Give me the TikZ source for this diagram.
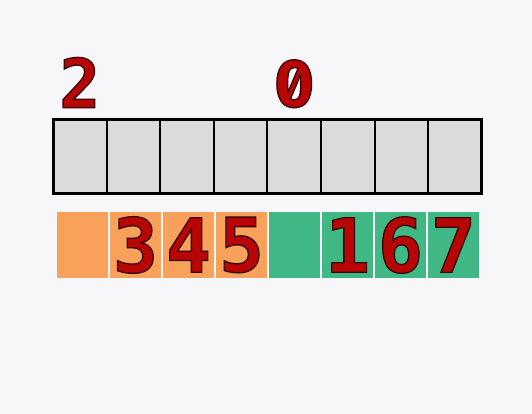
\documentclass[tikz,border=0pt]{standalone}
\usepackage{fontspec}
\usetikzlibrary{positioning}
\newfontfamily\digitfont{DejaVu Sans Mono}
\newfontfamily\zerofont{Fira Sans}[RawFeature=+zero]
\definecolor{paper}{HTML}{F7F6F8}
\definecolor{slotgray}{HTML}{DBDBDB}
\definecolor{leftpart}{HTML}{F8A15A}
\definecolor{rightpart}{HTML}{40B886}
\definecolor{digitred}{HTML}{B80505}
% red figure with a dark rim
\newcommand{\fig}[1]{\special{pdf:literal direct q 2 Tr 1.3 w 0.22 0.02 0.02 RG}#1\special{pdf:literal direct Q}}
\begin{document}
\begin{tikzpicture}[x=1pt, y=-1pt,
    slot/.style={draw=black, line width=2pt, fill=slotgray, minimum width=53.6pt,
                 minimum height=73pt, inner sep=0pt, outer sep=0pt},
    half/.style={fill=#1, draw=none, minimum width=51pt, minimum height=66pt, inner sep=0pt},
    digit/.style={font=\digitfont\bfseries\fontsize{75}{75}\selectfont, text=digitred, inner sep=0pt},
    small digit/.style={digit, font=\digitfont\bfseries\fontsize{68}{68}\selectfont}]
  \fill[paper] (0,0) rectangle (532,414);
  \useasboundingbox (0,0) rectangle (532,414);
  % the array
  \foreach \i in {0,...,7}
    \node[slot] (t\i) at (79.8+53.6*\i,156.5) {};
  \draw[line width=3pt] (t0.north west) rectangle (t7.south east);
  % the two halves
  \foreach \i/\c in {0/leftpart,1/leftpart,2/leftpart,3/leftpart,4/rightpart,5/rightpart,6/rightpart,7/rightpart}
    \node[half=\c] (b\i) at (82.5+53*\i,245) {};
  \node[small digit, above=12pt of t0] (two) {\fig{2}};
  \node[small digit, font=\zerofont\bfseries\fontsize{68}{68}\selectfont, above=12pt of t4] (zero) {\fig{0}};
  \node[digit] (three) at (b1) {\fig{3}};
  \node[digit] (four) at (b2) {\fig{4}};
  \node[digit] (five) at (b3) {\fig{5}};
  \node[digit] (one) at (b5) {\fig{1}};
  \node[digit] (six) at (b6) {\fig{6}};
  \node[digit] (seven) at (b7) {\fig{7}};
\end{tikzpicture}
\end{document}
